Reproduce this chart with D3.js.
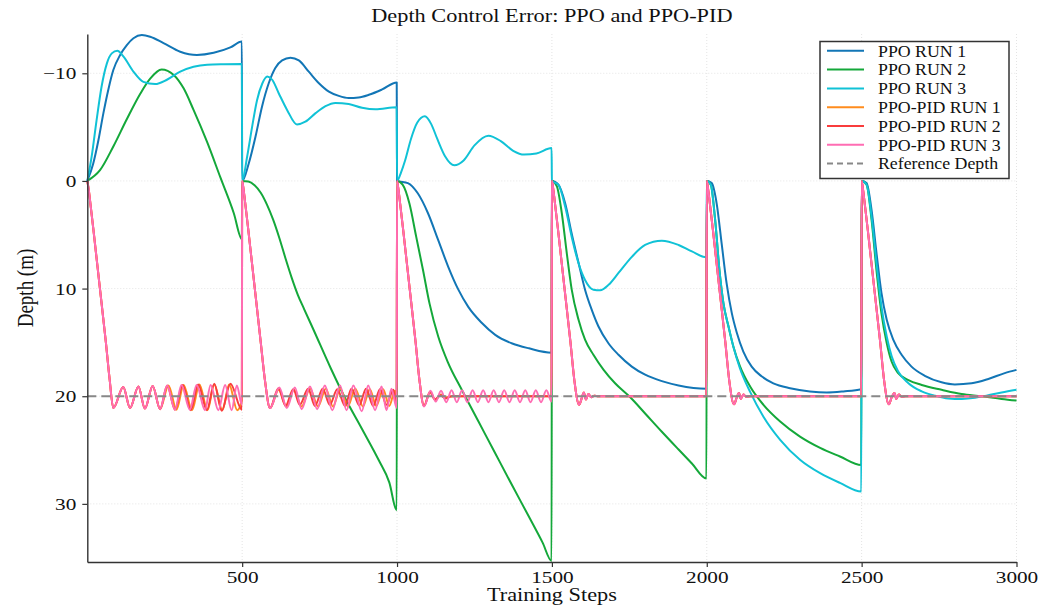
<!DOCTYPE html>
<html>
<head>
<meta charset="utf-8">
<script src="https://cdn.jsdelivr.net/npm/d3@7"></script>
<style>
  body { margin: 0; background: #fff; }
  svg { display: block; }
  text { font-family: "Liberation Serif", "Times New Roman", serif; fill: #111; }
</style>
</head>
<body>
<svg id="chart" width="1054" height="608"></svg>
<script>
// ---- data ([training step, depth]) ----
var xTicks = [500, 1000, 1500, 2000, 2500, 3000];
var yTicks = [-10, 0, 10, 20, 30];
var referenceDepth = 20;

var ppoRun1 = [
  [0,0],[19,-1.6],[36,-3.8],[52,-6.3],[68,-8.5],[84,-10.3],[106,-11.7],[127,-12.6],[149,-13.25],[176,-13.55],[203,-13.4],[246,-12.8],[300,-12.0],[354,-11.7],[408,-11.9],[462,-12.4],[499,-12.95],
  [500,0],[521,-1.6],[543,-4.1],[564,-6.9],[586,-9.1],[607,-10.5],[629,-11.2],[656,-11.45],[683,-11.2],[715,-10.15],[747,-9.1],[780,-8.3],[812,-7.9],[844,-7.7],[876,-7.75],[909,-8.0],[952,-8.5],[999,-9.15],
  [1000,0],[1035,0.2],[1067,1.15],[1100,3.0],[1133,5.5],[1165,7.95],[1198,10.1],[1230,11.7],[1274,13.2],[1317,14.3],[1372,15.1],[1426,15.55],[1499,15.95],
  [1500,0],[1521,0.35],[1543,2.1],[1564,4.9],[1586,7.6],[1607,10.1],[1629,12.0],[1650,13.5],[1683,15.1],[1715,16.15],[1758,17.25],[1801,18.0],[1855,18.6],[1909,19.0],[1999,19.3],
  [2000,0],[2016,0.2],[2032,2.1],[2048,5.8],[2064,9.5],[2081,12.3],[2097,14.1],[2118,15.85],[2145,17.25],[2177,18.15],[2215,18.8],[2269,19.25],[2333,19.55],[2387,19.65],[2441,19.55],[2499,19.35],
  [2500,0],[2516,0.2],[2532,2.7],[2548,6.7],[2564,10.4],[2581,12.9],[2602,14.75],[2629,16.15],[2661,17.25],[2704,18.1],[2758,18.7],[2801,18.9],[2855,18.8],[2909,18.4],[2962,17.85],[3000,17.55]
];

var ppoRun2 = [
  [0,0],[41,-1.0],[84,-3.2],[127,-5.7],[171,-8.1],[203,-9.5],[240,-10.35],[279,-9.85],[311,-8.6],[343,-6.6],[387,-3.6],[430,-0.3],[473,3.0],[499,5.4],
  [500,0],[520,0.05],[540,0.4],[560,1.1],[580,2.2],[600,3.6],[620,5.3],[640,7.2],[660,9.0],[680,10.6],[700,11.9],[730,13.8],[786,17.4],[831,20.1],[886,23.0],[942,26.0],[975,28.0],[999,30.6],
  [1000,0],[1018,0.35],[1040,2.1],[1062,5.2],[1084,8.3],[1105,11.4],[1133,14.45],[1165,16.9],[1209,19.4],[1263,22.35],[1317,25.3],[1372,28.3],[1426,31.2],[1470,33.6],[1499,35.3],
  [1500,0],[1516,0.5],[1532,3.0],[1548,6.7],[1564,10.1],[1586,12.9],[1607,14.75],[1634,16.15],[1667,17.55],[1704,18.8],[1753,20.1],[1801,21.6],[1855,23.3],[1909,24.95],[1952,26.25],[1999,27.65],
  [2000,0],[2013,0.35],[2027,3.6],[2041,8.3],[2054,11.4],[2070,13.5],[2086,15.4],[2107,17.2],[2140,19.1],[2183,20.8],[2237,22.35],[2301,23.75],[2366,24.8],[2430,25.6],[2499,26.4],
  [2500,0],[2516,0.35],[2532,3.6],[2548,8.3],[2564,12.3],[2581,15.05],[2597,16.8],[2618,17.85],[2651,18.5],[2694,18.95],[2758,19.4],[2823,19.8],[2887,20.0],[2952,20.25],[3000,20.4]
];

var ppoRun3 = [
  [0,0],[14,-2.25],[30,-5.65],[46,-8.75],[63,-10.9],[79,-11.85],[97,-12.1],[117,-11.55],[149,-10.15],[181,-9.2],[219,-9.0],[257,-9.4],[300,-10.15],[343,-10.6],[387,-10.8],[441,-10.85],[499,-10.87],
  [500,0],[516,-2.25],[532,-5.0],[548,-7.5],[565,-9.05],[581,-9.7],[597,-9.4],[618,-8.15],[645,-6.6],[677,-5.25],[704,-5.5],[737,-6.3],[769,-6.95],[801,-7.25],[844,-7.15],[887,-6.8],[930,-6.65],[999,-6.85],
  [1000,0],[1013,-0.8],[1026,-1.9],[1045,-3.9],[1065,-5.4],[1090,-6.0],[1110,-5.3],[1130,-3.9],[1155,-2.3],[1185,-1.45],[1215,-1.9],[1250,-3.3],[1295,-4.2],[1335,-3.7],[1375,-2.8],[1410,-2.45],[1450,-2.55],[1499,-3.05],
  [1500,0],[1521,0.35],[1543,2.4],[1564,5.2],[1586,7.65],[1607,9.2],[1634,10.1],[1656,10.15],[1683,9.65],[1715,8.55],[1758,7.05],[1801,5.95],[1855,5.55],[1909,5.95],[1952,6.55],[1999,7.1],
  [2000,0],[2013,0.35],[2027,3.6],[2041,8.3],[2054,11.4],[2070,13.5],[2086,15.4],[2107,17.4],[2140,19.6],[2183,21.9],[2237,24.05],[2301,25.9],[2366,27.15],[2430,28.05],[2499,28.85],
  [2500,0],[2516,0.35],[2532,3.3],[2548,7.65],[2564,11.65],[2581,14.45],[2597,16.3],[2618,17.7],[2651,18.8],[2694,19.55],[2737,19.95],[2780,20.2],[2823,20.25],[2866,20.15],[2909,19.9],[2952,19.65],[3000,19.4]
];

var pidRun1 = [
  [0,0],[5,0.9],[10,2.1],[20,4.6],[40,9.8],[60,15.0],[72,18.4],[84,21.1],[116,19.15],[138,21.1],[165,19.1],[186,21.15],[211,19.05],[235,21.2],[262,19.0],[288,21.25],[311,18.95],[338,21.3],[362,18.9],[388,21.3],[410,18.9],[436,21.3],[458,18.9],[484,21.3],[499,20.4],
  [500,0],[505,0.9],[510,2.1],[520,4.6],[540,9.8],[560,15.0],[573,18.4],[590,21.1],[618,19.4],[643,20.95],[667,19.4],[692,20.95],[719,19.3],[745,20.95],[770,19.3],[793,20.95],[817,19.3],[841,20.95],[865,19.3],[890,20.95],[912,19.35],[933,20.9],[955,19.35],[975,20.9],[993,19.5],[999,20.0],
  [1000,0],[1005,0.9],[1010,2.1],[1020,4.6],[1040,9.8],[1060,15.0],[1072,18.4],[1087,20.9],[1106,19.6],[1124,20.35],[1142,19.85],[1160,20.1],[1180,20.0],[1499,20.0],
  [1500,0],[1505,0.9],[1510,2.1],[1520,4.6],[1540,9.8],[1560,15.0],[1572,18.4],[1588,20.8],[1597,20.1],[1603,19.65],[1610,20.3],[1618,19.8],[1627,20.1],[1637,19.95],[1650,20.0],[1999,20.0],
  [2000,0],[2005,0.9],[2010,2.1],[2020,4.6],[2040,9.8],[2060,15.0],[2072,18.4],[2088,20.75],[2097,20.1],[2104,19.7],[2110,20.25],[2118,19.85],[2127,20.05],[2140,20.0],[2499,20.0],
  [2500,0],[2505,0.9],[2510,2.1],[2520,4.6],[2540,9.8],[2560,15.0],[2572,18.4],[2588,20.75],[2597,20.1],[2606,19.7],[2612,20.25],[2620,19.85],[2629,20.05],[2642,20.0],[3000,20.0]
];

var pidRun2 = [
  [0,0],[5,0.9],[10,2.1],[20,4.6],[40,9.8],[60,15.0],[72,18.4],[84,21.1],[116,19.15],[138,21.1],[165,19.1],[186,21.15],[211,19.05],[235,21.2],[258,19.0],[283,21.25],[308,18.95],[334,21.3],[358,18.9],[386,21.3],[410,18.85],[434,21.35],[462,18.85],[499,21.25],
  [500,0],[505,0.9],[510,2.1],[520,4.6],[540,9.8],[560,15.0],[573,18.4],[590,21.1],[617,19.25],[640,20.9],[665,19.35],[686,20.8],[713,19.3],[735,20.9],[760,19.3],[783,20.8],[807,19.35],[832,20.9],[853,19.3],[878,20.85],[900,19.3],[923,20.9],[945,19.35],[966,20.8],[988,19.4],[999,20.9],
  [1000,0],[1005,0.9],[1010,2.1],[1020,4.6],[1040,9.8],[1060,15.0],[1072,18.4],[1087,20.9],[1107,19.6],[1122,20.3],[1140,19.9],[1156,20.2],[1175,20.0],[1499,20.0],
  [1500,0],[1505,0.9],[1510,2.1],[1520,4.6],[1540,9.8],[1560,15.0],[1572,18.4],[1588,20.8],[1597,20.1],[1603,19.65],[1610,20.3],[1618,19.8],[1627,20.1],[1637,19.95],[1650,20.0],[1999,20.0],
  [2000,0],[2005,0.9],[2010,2.1],[2020,4.6],[2040,9.8],[2060,15.0],[2072,18.4],[2088,20.75],[2097,20.1],[2104,19.7],[2110,20.25],[2118,19.85],[2127,20.05],[2140,20.0],[2499,20.0],
  [2500,0],[2505,0.9],[2510,2.1],[2520,4.6],[2540,9.8],[2560,15.0],[2572,18.4],[2588,20.75],[2597,20.1],[2606,19.7],[2612,20.25],[2620,19.85],[2629,20.05],[2642,20.0],[3000,20.0]
];

var pidRun3 = [
  [0,0],[5,0.9],[10,2.1],[20,4.6],[40,9.8],[60,15.0],[72,18.4],[84,21.1],[116,19.15],[138,21.1],[165,19.1],[186,21.15],[211,19.05],[235,21.2],[258,19.0],[283,21.25],[304,18.95],[331,21.25],[353,18.95],[380,21.3],[398,18.95],[423,21.3],[445,18.95],[466,21.3],[483,19.0],[499,20.8],
  [500,0],[505,0.9],[510,2.1],[520,4.6],[540,9.8],[560,15.0],[573,18.4],[590,21.1],[620,19.2],[644,21.1],[670,19.2],[692,21.2],[719,19.1],[742,21.2],[767,19.0],[791,21.3],[816,19.0],[837,21.3],[859,19.0],[886,21.4],[907,19.0],[929,21.3],[950,19.1],[966,21.3],[982,19.3],[999,21.1],
  [1000,0],[1005,0.9],[1010,2.1],[1020,4.6],[1040,9.8],[1060,15.0],[1072,18.4],[1087,20.95],[1108,19.5],[1125,20.5],[1142,19.5],[1159,20.55],[1176,19.45],[1193,20.55],[1210,19.45],[1227,20.55],[1244,19.45],[1261,20.55],[1278,19.45],[1295,20.55],[1312,19.45],[1329,20.55],[1346,19.45],[1363,20.55],[1380,19.45],[1397,20.55],[1414,19.45],[1431,20.55],[1448,19.45],[1465,20.55],[1482,19.45],[1499,20.5],
  [1500,0],[1505,0.9],[1510,2.1],[1520,4.6],[1540,9.8],[1560,15.0],[1572,18.4],[1588,20.8],[1597,20.1],[1603,19.65],[1610,20.3],[1618,19.8],[1627,20.1],[1637,19.95],[1650,20.0],[1999,20.0],
  [2000,0],[2005,0.9],[2010,2.1],[2020,4.6],[2040,9.8],[2060,15.0],[2072,18.4],[2088,20.75],[2097,20.1],[2104,19.7],[2110,20.25],[2118,19.85],[2127,20.05],[2140,20.0],[2499,20.0],
  [2500,0],[2505,0.9],[2510,2.1],[2520,4.6],[2540,9.8],[2560,15.0],[2572,18.4],[2588,20.75],[2597,20.1],[2606,19.7],[2612,20.25],[2620,19.85],[2629,20.05],[2642,20.0],[3000,20.0]
];

var seriesNames = ['PPO RUN 1', 'PPO RUN 2', 'PPO RUN 3', 'PPO-PID RUN 1', 'PPO-PID RUN 2', 'PPO-PID RUN 3'];
var seriesData = [ppoRun1, ppoRun2, ppoRun3, pidRun1, pidRun2, pidRun3];
var seriesColors = ['#1276b6', '#14a83a', '#10c2d6', '#ff8c1e', '#f93c3c', '#ff6db3'];

(function() {
    // ---- layout ----
    var plotLeft = 87.3, plotRight = 1016.5, plotTop = 34, plotBottom = 562;

    var svg = d3.select('#chart');

    var x = d3.scaleLinear().domain([0, 3000]).range([plotLeft, plotRight]);
    var y = d3.scaleLinear().domain([-13.65, 35.4]).range([plotTop, plotBottom]);

    // light dotted grid
    svg.append('g').selectAll('line').data(xTicks).enter().append('line')
        .attr('x1', function(d) { return x(d); }).attr('x2', function(d) { return x(d); })
        .attr('y1', plotTop).attr('y2', plotBottom)
        .attr('stroke', '#e4e4e4').attr('stroke-width', 1).attr('stroke-dasharray', '1,2');
    svg.append('g').selectAll('line').data(yTicks).enter().append('line')
        .attr('x1', plotLeft).attr('x2', plotRight)
        .attr('y1', function(d) { return y(d); }).attr('y2', function(d) { return y(d); })
        .attr('stroke', '#e4e4e4').attr('stroke-width', 1).attr('stroke-dasharray', '1,2');

    // the figure is stretched sideways, so text is widened to match
    function stretchText(sel, sx) {
        sel.each(function() {
            var t = d3.select(this);
            var tx = +t.attr('x') || 0;
            t.attr('x', tx / sx).attr('transform', 'scale(' + sx + ',1)');
        });
    }

    // lines
    var line = d3.line()
        .x(function(d) { return x(d[0]); })
        .y(function(d) { return y(d[1]); })
        .curve(d3.curveMonotoneX);

    svg.append('g').selectAll('path')
        .data(seriesData)
        .enter()
        .append('path')
            .attr('d', function(d) { return line(d); })
            .attr('fill', 'none')
            .attr('stroke', function(d, i) { return seriesColors[i]; })
            .attr('stroke-width', 2)
            .attr('stroke-linejoin', 'round');

    // reference depth
    svg.append('line')
        .attr('x1', x(0)).attr('x2', x(3000))
        .attr('y1', y(referenceDepth)).attr('y2', y(referenceDepth))
        .attr('stroke', '#888').attr('stroke-width', 1.8).attr('stroke-dasharray', '9,5');

    // axes
    var xAxis = svg.append('g')
        .attr('transform', 'translate(0,' + plotBottom + ')')
        .call(d3.axisBottom(x).tickValues(xTicks).tickFormat(d3.format('d'))
            .tickSize(5).tickSizeOuter(0).tickPadding(4));
    var yAxis = svg.append('g')
        .attr('transform', 'translate(' + plotLeft + ',0)')
        .call(d3.axisLeft(y).tickValues(yTicks).tickFormat(d3.format('d'))
            .tickSize(5).tickSizeOuter(0).tickPadding(6));

    [xAxis, yAxis].forEach(function(a) {
        a.select('.domain').attr('stroke', '#333').attr('stroke-width', 1.4);
        a.selectAll('.tick line').attr('stroke', '#333').attr('stroke-width', 1.2);
        a.selectAll('.tick text')
            .attr('font-family', '"Liberation Serif", serif')
            .attr('font-size', '17px')
            .attr('fill', '#111');
    });
    stretchText(xAxis.selectAll('.tick text'), 1.25);
    stretchText(yAxis.selectAll('.tick text'), 1.25);

    // title and axis labels
    svg.append('text')
        .attr('transform', 'translate(' + ((plotLeft + plotRight) / 2) + ',22) scale(1.24,1)')
        .attr('text-anchor', 'middle')
        .attr('font-size', '18px')
        .text('Depth Control Error: PPO and PPO-PID');

    svg.append('text')
        .attr('transform', 'translate(' + ((plotLeft + plotRight) / 2) + ',601) scale(1.24,1)')
        .attr('text-anchor', 'middle')
        .attr('font-size', '18px')
        .text('Training Steps');

    svg.append('text')
        .attr('transform', 'translate(33,288) scale(1.2,1) rotate(-90)')
        .attr('text-anchor', 'middle')
        .attr('font-size', '19px')
        .text('Depth (m)');

    // legend
    var legendItems = seriesNames.map(function(n, i) { return { name: n, color: seriesColors[i], dash: null }; });
    legendItems.push({ name: 'Reference Depth', color: '#888', dash: '6,4' });

    var legend = svg.append('g').attr('transform', 'translate(820,41.5)');
    legend.append('rect')
        .attr('width', 189).attr('height', 137)
        .attr('fill', '#fff').attr('stroke', '#333').attr('stroke-width', 1.5);

    var rows = legend.selectAll('g.row')
        .data(legendItems)
        .enter()
        .append('g')
            .attr('class', 'row')
            .attr('transform', function(d, i) { return 'translate(0,' + (9.3 + i * 18.8) + ')'; });

    rows.append('line')
        .attr('x1', 7).attr('x2', 44)
        .attr('stroke', function(d) { return d.color; })
        .attr('stroke-width', 2)
        .attr('stroke-dasharray', function(d) { return d.dash; });

    rows.append('text')
        .attr('transform', 'translate(58,5.8) scale(1.08,1)')
        .attr('font-size', '16.5px')
        .text(function(d) { return d.name; });
})();
</script>
</body>
</html>
